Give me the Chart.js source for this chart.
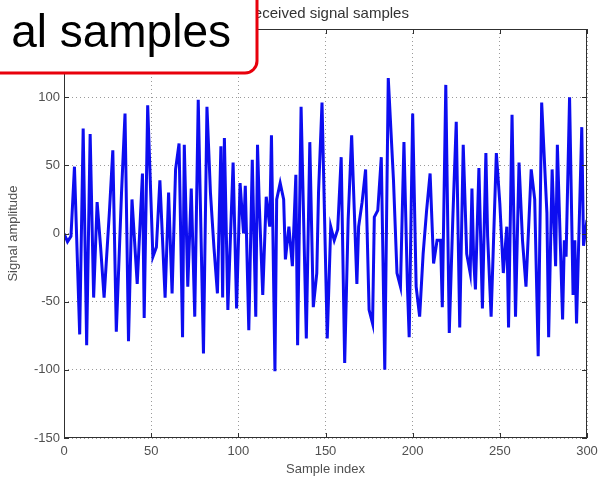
<!DOCTYPE html>
<html>
<head>
<meta charset="utf-8">
<script src="https://cdn.jsdelivr.net/npm/chart.js@4"></script>
<style>
  html, body { margin: 0; padding: 0; background: #fff; }
  #wrap { width: 598px; height: 481px; }
</style>
</head>
<body>
<div id="wrap"><canvas id="sig" width="598" height="481"></canvas></div>
<script>
// sample positions (x) and amplitudes (y)
const sampleIdx = [
  0, 2, 4, 6, 9, 11, 13, 15, 17, 19, 21, 23, 26, 28, 30, 33, 35, 37, 39, 42,
  45, 46, 48, 51, 53, 55, 58, 60, 62, 64, 66, 68, 69, 71, 73, 75, 77, 80, 82, 84,
  86, 88, 90, 91, 92, 94, 97, 99, 101, 103, 104, 106, 108, 110, 111, 112, 114, 116, 118, 119,
  121, 122, 124, 126, 127, 129, 131, 133, 134, 136, 139, 141, 143, 145, 146, 148, 151, 153, 155, 157,
  159, 161, 163, 165, 168, 169, 171, 173, 175, 177, 178, 180, 182, 184, 186, 189, 191, 193, 195, 197,
  198, 200, 202, 204, 206, 208, 210, 212, 214, 216, 217, 219, 221, 223, 225, 227, 229, 231, 233, 234,
  235, 236, 238, 240, 242, 243, 245, 248, 250, 252, 254, 255, 257, 259, 261, 263, 265, 268, 270, 272,
  274, 277, 278, 280, 282, 283, 286, 287, 288, 290, 292, 293, 294, 297, 298, 300
];
const amplitude = [
  0, -6, -2, 49, -74, 77, -82, 73, -47, 23, -10, -47, 15, 61, -72, 30, 88, -79, 25, -37,
  44, -62, 94, -17, -10, 39, -47, 30, -44, 47, 66, -76, 65, -39, 33, -61, 98, -88, 93, 30,
  -10, -44, 64, -47, 70, -56, 52, -55, 37, 0, 35, -71, 54, -61, 65, 22, -45, 27, 5, 72,
  -101, 25, 37, 25, -19, 5, -24, 43, -82, 93, -77, 67, -54, -29, 30, 96, -77, 5, -5, 3,
  56, -95, 10, 72, -37, 5, 23, 47, -56, -66, 12, 17, 56, -100, 114, 39, -29, -39, 67, -39,
  -76, 88, -39, -61, -15, 17, 44, -22, -5, -5, -54, 109, -73, 10, 82, -69, 65, -15, -29, 33,
  -19, -41, 48, -55, 59, -2, -61, 59, 22, -29, 5, -69, 87, -61, 52, -5, -39, 47, 25, -90,
  96, 15, -76, 47, -24, 65, -63, -5, -17, 100, -45, -5, -66, 78, -9, 10
];
const xTicks = [0, 50, 100, 150, 200, 250, 300];
const yTicks = [-150, -100, -50, 0, 50, 100, 150];
const titleText = 'Received signal samples';
const calloutText = 'al samples';

const points = sampleIdx.map((x, i) => ({ x: x, y: amplitude[i] }));

const tickFont = { family: 'Liberation Sans, Arial, sans-serif', size: 13 };
const grey = '#505050';

// frame, inward ticks, title and the red callout box
const matlabFrame = {
  id: 'matlabFrame',
  afterDatasetsDraw(chart) {
    const { ctx, chartArea: a, scales } = chart;
    ctx.save();
    ctx.strokeStyle = '#303030';
    ctx.lineWidth = 1;
    ctx.strokeRect(a.left + 0.5, a.top + 0.5, a.right - a.left - 1, a.bottom - a.top - 1);
    ctx.beginPath();
    xTicks.forEach(t => {
      const px = Math.round(scales.x.getPixelForValue(t)) + 0.5;
      ctx.moveTo(px, a.bottom); ctx.lineTo(px, a.bottom - 5);
      ctx.moveTo(px, a.top); ctx.lineTo(px, a.top + 5);
    });
    yTicks.forEach(t => {
      const py = Math.round(scales.y.getPixelForValue(t)) + 0.5;
      ctx.moveTo(a.left, py); ctx.lineTo(a.left + 5, py);
      ctx.moveTo(a.right, py); ctx.lineTo(a.right - 5, py);
    });
    ctx.stroke();
    ctx.restore();
  },
  afterDraw(chart) {
    const { ctx } = chart;
    ctx.save();
    ctx.fillStyle = '#333';
    ctx.font = '15px Liberation Sans, Arial, sans-serif';
    ctx.textAlign = 'center';
    ctx.textBaseline = 'middle';
    ctx.fillText(titleText, 326, 14);

    // callout
    const r = 12, x0 = -30, y0 = -30, x1 = 257, y1 = 73;
    ctx.beginPath();
    ctx.moveTo(x0, y0);
    ctx.lineTo(x1, y0);
    ctx.lineTo(x1, y1 - r);
    ctx.arcTo(x1, y1, x1 - r, y1, r);
    ctx.lineTo(x0, y1);
    ctx.closePath();
    ctx.fillStyle = '#fff';
    ctx.fill();
    ctx.lineWidth = 3;
    ctx.strokeStyle = '#e8000b';
    ctx.stroke();
    ctx.fillStyle = '#000';
    ctx.font = '46px Liberation Sans, Arial, sans-serif';
    ctx.textAlign = 'right';
    ctx.textBaseline = 'alphabetic';
    ctx.fillText(calloutText, 231, 47);
    ctx.restore();
  }
};

new Chart(document.getElementById('sig'), {
  type: 'line',
  data: {
    datasets: [{
      data: points,
      borderColor: '#0d0df0',
      borderWidth: 3,
      pointRadius: 0,
      tension: 0,
      fill: false
    }]
  },
  options: {
    responsive: false,
    animation: false,
    events: [],
    layout: { padding: { top: 29, right: 11, left: 0, bottom: 0 } },
    plugins: { legend: { display: false }, tooltip: { enabled: false } },
    scales: {
      x: {
        type: 'linear',
        min: 0, max: 300,
        afterBuildTicks: s => { s.ticks = xTicks.map(v => ({ value: v })); },
        afterFit: s => { s.height = 43; s.paddingLeft = 0; s.paddingRight = 0; },
        grid: { color: '#9a9a9a', drawTicks: false },
        border: { display: false, dash: [1, 3] },
        ticks: { font: tickFont, color: grey, padding: 6, maxRotation: 0 },
        title: { display: true, text: 'Sample index', font: tickFont, color: grey, padding: { top: 0, bottom: 4 } }
      },
      y: {
        min: -150, max: 150,
        afterBuildTicks: s => { s.ticks = yTicks.map(v => ({ value: v })); },
        afterFit: s => { s.width = 64; s.paddingTop = 0; s.paddingBottom = 0; },
        grid: { color: '#9a9a9a', drawTicks: false },
        border: { display: false, dash: [1, 3] },
        ticks: { font: tickFont, color: grey, padding: 4 },
        title: { display: true, text: 'Signal amplitude', font: tickFont, color: grey, padding: { top: 6, bottom: 0 } }
      }
    }
  },
  plugins: [matlabFrame]
});
</script>
</body>
</html>
